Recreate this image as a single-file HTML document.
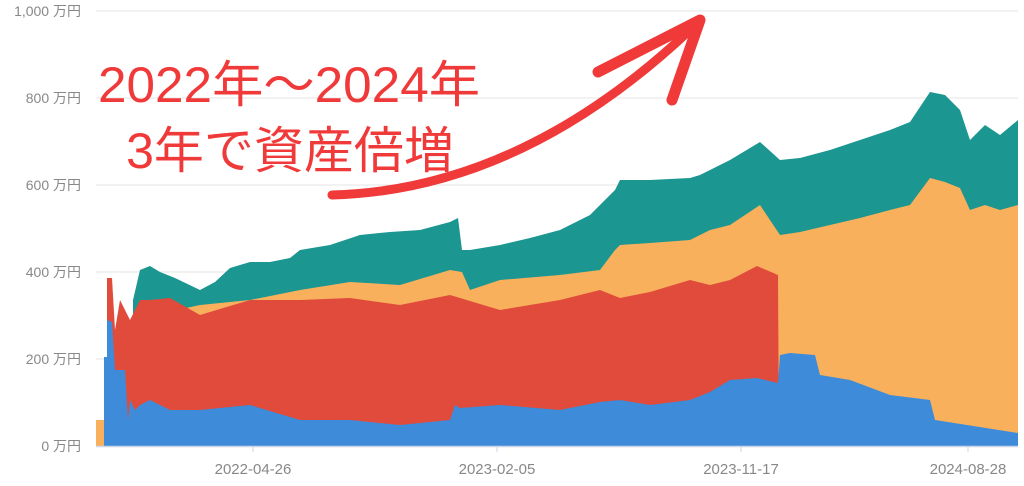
<!DOCTYPE html><html><head><meta charset="utf-8"><style>body{margin:0;background:#fff}svg{display:block}text{font-family:"Liberation Sans","Noto Sans CJK JP",sans-serif}</style></head><body>
<svg width="1024" height="486" viewBox="0 0 1024 486">
<g stroke="#e6e6e6" stroke-width="1"><line x1="96" y1="11" x2="1018" y2="11"/><line x1="96" y1="98" x2="1018" y2="98"/><line x1="96" y1="185" x2="1018" y2="185"/><line x1="96" y1="272" x2="1018" y2="272"/><line x1="96" y1="359" x2="1018" y2="359"/></g>
<g fill="#888" font-size="14" text-anchor="end"><text x="81" y="16">1,000 万円</text><text x="81" y="103">800 万円</text><text x="81" y="190">600 万円</text><text x="81" y="277">400 万円</text><text x="81" y="364">200 万円</text><text x="81" y="451">0 万円</text></g>
<polygon fill="#1b9690" points="133,446 133,300 140,270 150,266 160,272 175,278 200,290 215,282 230,268 250,262 270,262 290,258 300,250 330,245 360,235 390,232 420,230 450,222 458,218 462,250 470,250 500,245 530,238 560,230 590,215 615,190 620,180 650,180 690,178 700,175 710,170 730,160 760,142 780,160 800,158 830,150 860,140 890,130 910,122 930,92 945,95 960,110 970,140 985,125 1000,135 1018,120 1018,446"/>
<polygon fill="#f9b05c" points="96,446 96,420 100,420 133,420 133,318 140,318 200,305 250,300 300,290 350,282 400,285 450,270 462,272 470,290 500,280 560,275 600,270 615,250 620,245 650,243 690,240 710,230 730,225 760,205 780,235 800,232 830,225 860,218 890,210 910,205 930,178 945,182 960,188 970,210 985,205 1000,210 1018,205 1018,446"/>
<polygon fill="#e04b3c" points="107,446 107,278 112,278 115,330 120,300 125,310 130,320 135,310 140,300 150,300 170,298 200,315 250,300 300,300 350,298 400,305 450,295 500,310 560,300 600,290 620,298 650,292 690,280 710,285 730,280 757,266 778,275 779,446"/>
<polygon fill="#3d8bd9" points="100,446 104,446 104,357 107,357 107,320 112,322 115,370 125,370 128,420 130,400 135,410 140,405 150,400 170,410 200,410 250,405 300,420 350,420 400,425 450,420 455,405 460,408 500,405 560,410 600,402 620,400 650,405 690,400 710,392 730,380 757,378 778,383 780,355 790,353 815,355 820,375 850,380 890,395 930,400 935,420 1018,433 1018,446"/>
<line x1="96" y1="446.5" x2="1018" y2="446.5" stroke="#cdd6e6" stroke-width="1.5"/>
<g stroke="#cdd6e6"><line x1="253" y1="446" x2="253" y2="452"/><line x1="497" y1="446" x2="497" y2="452"/><line x1="741" y1="446" x2="741" y2="452"/><line x1="968" y1="446" x2="968" y2="452"/></g>
<g fill="#888" font-size="15" text-anchor="middle"><text x="253" y="474">2022-04-26</text><text x="497" y="474">2023-02-05</text><text x="741" y="474">2023-11-17</text><text x="968" y="474">2024-08-28</text></g>
<g fill="#f03a3a" font-size="50"><text x="98" y="102" textLength="382" lengthAdjust="spacingAndGlyphs">2022年～2024年</text><text x="290" y="168" text-anchor="middle">3年で資産倍増</text></g>
<path d="M332,195 Q520,190 690,30" fill="none" stroke="#f03a3a" stroke-width="9" stroke-linecap="round"/>
<path d="M598,72 L700,20 L672,100" fill="none" stroke="#f03a3a" stroke-width="11" stroke-linecap="round" stroke-linejoin="round"/>
</svg></body></html>
